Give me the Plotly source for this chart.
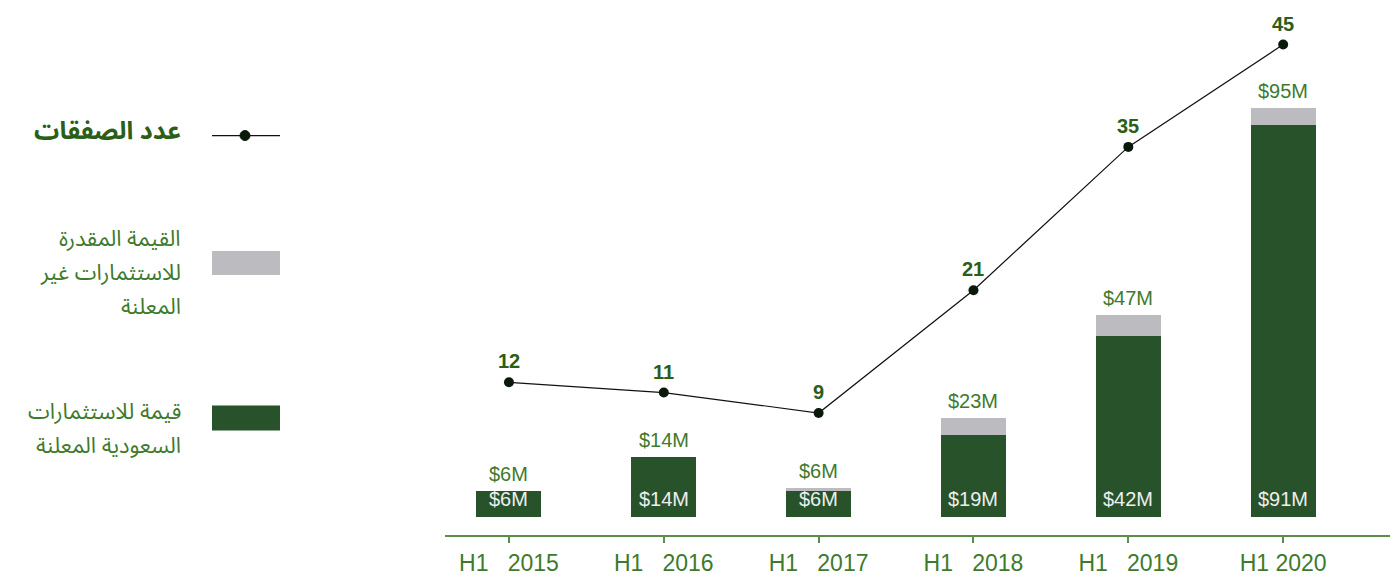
import plotly.graph_objects as go

categories = ["H1 2015", "H1 2016", "H1 2017", "H1 2018", "H1 2019", "H1 2020"]
tick_labels = ["H1\u00a0\u00a0\u00a02015", "H1\u00a0\u00a0\u00a02016", "H1\u00a0\u00a0\u00a02017",
               "H1\u00a0\u00a0\u00a02018", "H1\u00a0\u00a0\u00a02019", "H1\u00a02020"]
disclosed = [6, 14, 6, 19, 42, 91]          # قيمة للاستثمارات السعودية المعلنة
total = [6, 14, 6, 23, 47, 95]              # total incl. estimated undisclosed
undisclosed = [0, 0, 0.8, 4, 5, 4]          # القيمة المقدرة للاستثمارات غير المعلنة
deals = [12, 11, 9, 21, 35, 45]             # عدد الصفقات

legend_deals = ["عدد الصفقات"]
legend_grey = ["القيمة المقدرة", "للاستثمارات غير", "المعلنة"]
legend_dark = ["قيمة للاستثمارات", "السعودية المعلنة"]

DARK = "#28532a"
GREY = "#bcbcc0"
TXT = "#3e7a2c"
BOLD = "#2b5e16"
AR_FONT = "Noto Sans Arabic, DejaVu Sans, sans-serif"
LAT_FONT = "Liberation Sans, Arial, sans-serif"

xs = list(range(len(categories)))

fig = go.Figure()
fig.add_trace(go.Bar(x=xs, y=disclosed, marker=dict(color=DARK, line=dict(width=0)),
                     width=0.42, name="disclosed", hoverinfo="skip"))
fig.add_trace(go.Bar(x=xs, y=undisclosed, marker=dict(color=GREY, line=dict(width=0)),
                     width=0.42, name="undisclosed", hoverinfo="skip"))
fig.add_trace(go.Scatter(x=xs, y=deals, yaxis="y2", mode="lines+markers",
                         line=dict(color="#111111", width=1.2),
                         marker=dict(color="#0a1a0a", size=10),
                         hoverinfo="skip"))

ann = []
for i, (d, t, n) in enumerate(zip(disclosed, total, deals)):
    ann.append(dict(x=i, y=0, xref="x", yref="y", text=f"${d}M", showarrow=False,
                    yanchor="bottom", yshift=5, font=dict(family=LAT_FONT, size=20, color="#eeeeee")))
    ann.append(dict(x=i, y=t + (undisclosed[i] if i == 2 else 0), xref="x", yref="y", text=f"${t}M",
                    showarrow=False, yanchor="bottom", yshift=4,
                    font=dict(family=LAT_FONT, size=20, color=TXT)))
    ann.append(dict(x=i, y=n, xref="x", yref="y2", text=f"<b>{n}</b>", showarrow=False,
                    yanchor="bottom", yshift=8, font=dict(family=LAT_FONT, size=20, color=BOLD)))

# legend (drawn manually on the left)
L, R_, T, B = 445, 1390, 20, 537
def px(xp):
    return (xp - L) / (R_ - L)
def py(yp):
    return (B - yp) / (B - T)

def legend_text(lines, ys, size, color, bold=False):
    for s, yy in zip(lines, ys):
        ann.append(dict(x=px(182), y=py(yy), xref="paper", yref="paper", xanchor="right",
                        yanchor="middle", text=(f"<b>{s}</b>" if bold else s), showarrow=False,
                        borderpad=0, font=dict(family=AR_FONT, size=size, color=color)))

legend_text(legend_deals, [131], 25, BOLD, bold=True)
legend_text(legend_grey, [240, 274, 308], 22, TXT)
legend_text(legend_dark, [414, 448], 22, TXT)

shapes = [
    dict(type="line", xref="paper", yref="paper", x0=px(212), x1=px(280), y0=py(136), y1=py(136),
         line=dict(color="#111111", width=1.2)),
    dict(type="circle", xref="paper", yref="paper", x0=px(240), x1=px(250), y0=py(131), y1=py(141),
         fillcolor="#0a1a0a", line=dict(color="#0a1a0a", width=1)),
    dict(type="rect", xref="paper", yref="paper", x0=px(212), x1=px(280), y0=py(252), y1=py(276),
         fillcolor=GREY, line=dict(width=0)),
    dict(type="rect", xref="paper", yref="paper", x0=px(212), x1=px(280), y0=py(407), y1=py(432),
         fillcolor=DARK, line=dict(width=0)),
]

fig.update_layout(
    width=1393, height=579, barmode="stack", bargap=0,
    margin=dict(l=L, r=1393 - R_, t=T, b=579 - B),
    paper_bgcolor="white", plot_bgcolor="white", showlegend=False,
    annotations=ann, shapes=shapes,
    xaxis=dict(range=[-0.413, 5.69], tickmode="array", tickvals=xs, ticktext=tick_labels,
               showgrid=False, zeroline=False, showline=True, linecolor="#5d8d4a", linewidth=2,
               ticks="outside", ticklen=6, tickwidth=1.5, tickcolor="#5d8d4a",
               tickfont=dict(family=LAT_FONT, size=23, color=TXT)),
    yaxis=dict(range=[-4.2, 115.5], visible=False, showgrid=False, zeroline=False),
    yaxis2=dict(range=[-2.92, 47.4], overlaying="y", visible=False, showgrid=False, zeroline=False),
)

fig.write_html("out.html")
